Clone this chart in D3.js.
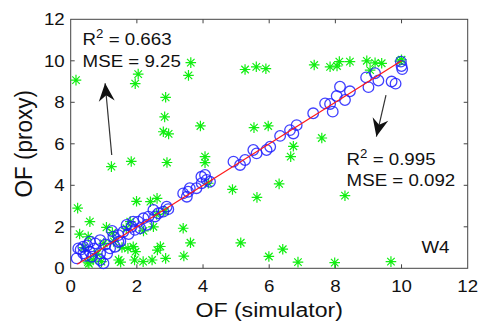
<!DOCTYPE html>
<html>
<head>
<meta charset="utf-8">
<script src="https://cdn.jsdelivr.net/npm/d3@7"></script>
<style>
  html, body { margin: 0; padding: 0; background: #fff; }
  svg { display: block; font-family: "Liberation Sans", Arial, sans-serif; }
</style>
</head>
<body>
<script>
// values (x = simulator OF, y = proxy OF)
const xTicks = [0, 2, 4, 6, 8, 10, 12];
const yTicks = [0, 2, 4, 6, 8, 10, 12];

// green asterisks: poor proxy (R^2 = 0.663)
const poorProxy = [
  [0.16, 9.07], [1.95, 8.9], [2.04, 9.36], [3.63, 9.91], [3.56, 9.3], [2.87, 8.24],
  [2.84, 7.3], [2.80, 6.58], [2.96, 6.48], [3.92, 6.86], [1.23, 4.9], [1.83, 5.15],
  [2.91, 5.1], [4.06, 5.38], [4.06, 5.09],
  [5.27, 9.58], [5.61, 9.71], [5.9, 9.62], [7.36, 9.8], [7.84, 9.71], [8.05, 9.75],
  [8.12, 9.96], [8.44, 9.96], [8.95, 10.0], [9.05, 9.55], [9.2, 9.9], [9.4, 9.88],
  [9.95, 9.98], [10.0, 10.05],
  [5.54, 6.78], [5.97, 6.86], [7.59, 6.28], [6.73, 5.88], [6.65, 5.38], [6.3, 4.07],
  [4.89, 3.8], [5.63, 3.42], [8.29, 3.5], [5.14, 1.23], [5.99, 0.57], [6.41, 0.92],
  [6.87, 0.3], [7.98, 0.27], [9.68, 0.32],
  [0.21, 2.9], [0.58, 2.25], [0.27, 1.65], [0.53, 1.52], [1.99, 3.23], [2.41, 3.21],
  [2.61, 3.37], [3.4, 1.93], [3.62, 1.23], [3.42, 0.59], [2.87, 0.48], [2.62, 0.88],
  [2.71, 1.05], [1.96, 0.8], [1.93, 0.4], [2.19, 0.32], [2.46, 0.4], [1.45, 0.4],
  [0.52, 0.3], [0.93, 0.32], [0.68, 0.4], [1.73, 0.96], [1.8, 2.25], [1.08, 1.97],
  [1.26, 1.72], [1.68, 1.93], [2.5, 2.0], [1.89, 1.04], [1.51, 0.3], [4.16, 4.1],
  [0.55, 0.22], [1.0, 1.2], [0.8, 0.7], [1.3, 1.3], [1.55, 1.0], [0.4, 1.0],
  [2.2, 1.8], [2.6, 2.6], [2.85, 2.75]
];

// blue circles: good proxy (R^2 = 0.995)
const goodProxy = [
  [0.18, 0.48], [0.23, 0.96], [0.38, 1.04], [0.38, 0.72], [0.58, 0.8], [0.64, 0.56],
  [0.58, 1.28], [0.74, 1.2], [0.89, 1.36], [0.89, 0.72], [0.89, 0.4], [0.99, 0.24],
  [1.19, 0.96], [1.34, 1.04], [1.44, 1.28], [1.29, 1.52], [1.44, 1.6], [1.59, 1.76],
  [1.69, 2.09], [1.84, 2.0], [1.94, 1.85], [1.89, 2.25], [2.04, 2.25], [2.1, 1.93],
  [2.2, 2.41], [2.35, 2.49], [2.5, 2.81], [2.65, 2.65], [2.8, 2.73], [2.9, 2.97],
  [3.4, 3.61], [3.51, 3.45], [3.6, 3.86], [3.55, 3.69], [3.8, 3.86], [3.96, 4.1],
  [4.11, 4.26], [4.21, 4.17], [3.95, 4.41], [4.06, 4.5], [4.92, 5.14], [5.12, 4.98],
  [5.27, 5.22], [5.52, 5.7], [5.62, 5.54], [5.92, 5.7], [6.03, 5.86], [6.33, 6.38],
  [6.63, 6.66], [6.73, 6.5], [6.83, 6.9], [7.33, 7.47], [7.69, 7.95], [7.92, 7.55],
  [7.84, 7.92], [8.04, 8.3], [8.29, 8.11], [8.14, 8.75], [8.44, 8.53], [8.93, 9.2],
  [9.0, 8.73], [9.2, 9.4], [9.3, 9.05], [9.7, 9.0], [9.82, 8.9], [9.98, 9.96],
  [10.0, 9.75], [10.02, 9.6], [0.3, 0.9], [0.5, 1.1], [1.05, 1.15], [0.7, 0.95],
  [1.5, 1.3], [2.3, 2.1], [2.55, 2.5], [2.95, 2.85], [1.75, 1.65], [0.45, 0.6],
  [1.1, 0.7], [1.25, 1.8]
];

const fitLine = [[0.2, 0.2], [10, 10]];

// annotation arrows [tail, tip] in data units
const arrows = [
  [[1.24, 5.46], [1.04, 8.92]],
  [[9.53, 8.35], [9.24, 6.35]]
];

const width = 478, height = 322;
const margin = {top: 19.3, right: 10.3, bottom: 53.7, left: 70.7};
const sx = 1.1; // reference text looks a little wide

const svg = d3.select('body').append('svg')
  .attr('width', width)
  .attr('height', height);

const x = d3.scaleLinear().domain([0, 12]).range([margin.left, width - margin.right]);
const y = d3.scaleLinear().domain([0, 12]).range([height - margin.bottom, margin.top]);

function label(px, py, txt, size, anchor) {
  return svg.append('text')
    .attr('transform', `translate(${px},${py}) scale(${sx},1)`)
    .attr('text-anchor', anchor || 'start')
    .style('font-size', size + 'px')
    .style('fill', '#111')
    .text(txt);
}

// axes with inward ticks, on all four sides
const axisColor = '#444';
const tickLen = 4;
const g = svg.append('g');

g.append('rect')
  .attr('x', x(0)).attr('y', y(12))
  .attr('width', x(12) - x(0)).attr('height', y(0) - y(12))
  .attr('fill', 'none').attr('stroke', axisColor).attr('stroke-width', 1);

xTicks.slice(1, -1).forEach(t => {
  g.append('line').attr('x1', x(t)).attr('x2', x(t)).attr('y1', y(0)).attr('y2', y(0) - tickLen).attr('stroke', axisColor);
  g.append('line').attr('x1', x(t)).attr('x2', x(t)).attr('y1', y(12)).attr('y2', y(12) + tickLen).attr('stroke', axisColor);
});
yTicks.slice(1, -1).forEach(t => {
  g.append('line').attr('y1', y(t)).attr('y2', y(t)).attr('x1', x(0)).attr('x2', x(0) + tickLen).attr('stroke', axisColor);
  g.append('line').attr('y1', y(t)).attr('y2', y(t)).attr('x1', x(12)).attr('x2', x(12) - tickLen).attr('stroke', axisColor);
});

xTicks.forEach(t => label(x(t), y(0) + 24, t, 17, 'middle'));
yTicks.forEach(t => label(x(0) - 6, y(t) + 6, t, 17, 'end'));

// axis titles
label((x(0) + x(12)) / 2, 317, 'OF (simulator)', 21, 'middle');
svg.append('text')
  .attr('transform', `translate(32,${(y(0) + y(12)) / 2}) rotate(-90) scale(1,${sx})`)
  .attr('text-anchor', 'middle')
  .style('font-size', '22.5px')
  .style('fill', '#111')
  .text('OF (proxy)');

// green asterisks
const ar = 5.3, ad = ar * 0.707;
const starPath = `M${-ar},0H${ar}M0,${-ar}V${ar}M${-ad},${-ad}L${ad},${ad}M${-ad},${ad}L${ad},${-ad}`;
svg.append('g').selectAll('path')
  .data(poorProxy)
  .enter()
  .append('path')
  .attr('transform', d => `translate(${x(d[0])},${y(d[1])})`)
  .attr('d', starPath)
  .attr('stroke', '#11ee11')
  .attr('stroke-width', 1.2)
  .attr('fill', 'none');

// blue circles
svg.append('g').selectAll('circle')
  .data(goodProxy)
  .enter()
  .append('circle')
  .attr('cx', d => x(d[0]))
  .attr('cy', d => y(d[1]))
  .attr('r', 5.3)
  .attr('fill', 'none')
  .attr('stroke', '#1f1fff')
  .attr('stroke-opacity', 0.85)
  .attr('stroke-width', 1.3);

// fitted 1:1 line
svg.append('path')
  .attr('d', d3.line().x(d => x(d[0])).y(d => y(d[1]))(fitLine))
  .attr('stroke', '#ff1a1a')
  .attr('stroke-width', 1.2)
  .attr('fill', 'none');

// arrows
arrows.forEach(a => {
  const x1 = x(a[0][0]), y1 = y(a[0][1]), x2 = x(a[1][0]), y2 = y(a[1][1]);
  const ang = Math.atan2(y2 - y1, x2 - x1) * 180 / Math.PI;
  svg.append('line')
    .attr('x1', x1).attr('y1', y1).attr('x2', x2).attr('y2', y2)
    .attr('stroke', '#333').attr('stroke-width', 1.2);
  svg.append('path')
    .attr('transform', `translate(${x2},${y2}) rotate(${ang})`)
    .attr('d', 'M0,0L-18,-8L-12,0L-18,8Z')
    .attr('fill', '#111');
});

// annotation text
function stat(px, py, r2, mse) {
  const t = svg.append('text')
    .attr('transform', `translate(${px},${py}) scale(${sx},1)`)
    .style('font-size', '17px')
    .style('fill', '#111');
  t.append('tspan').text('R');
  t.append('tspan').attr('dy', -7).style('font-size', '12px').text('2');
  t.append('tspan').attr('dy', 7).text(' = ' + r2);
  label(px, py + 21.5, 'MSE = ' + mse, 17);
}
stat(x(0.36), y(10.76), '0.663', '9.25');
stat(x(8.34), y(4.98), '0.995', '0.092');

label(x(11.45), y(0.75), 'W4', 17, 'end');
</script>
</body>
</html>
